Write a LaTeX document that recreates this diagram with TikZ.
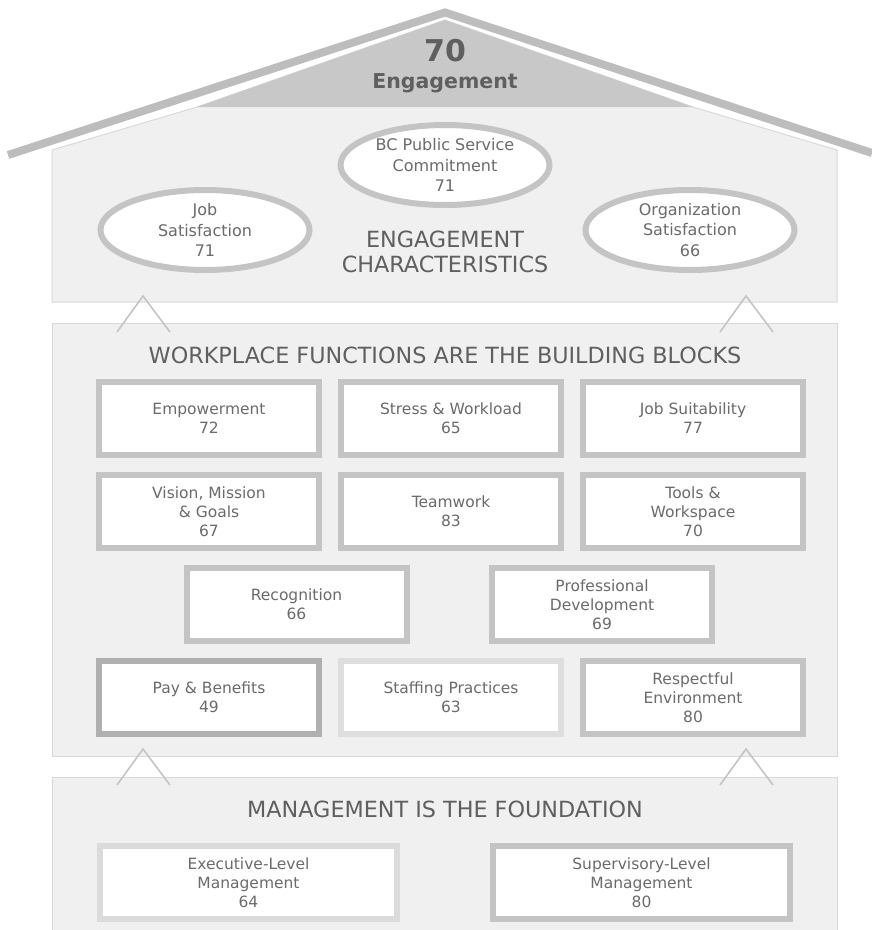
\documentclass[tikz,border=0pt]{standalone}
\usepackage{fontspec}
\setmainfont{DejaVu Sans}
\usetikzlibrary{shapes.geometric}

\definecolor{roofgray}{HTML}{BDBDBD}
\definecolor{gablegray}{HTML}{C8C8C8}
\definecolor{wallgray}{HTML}{F0F0F0}
\definecolor{walledge}{HTML}{D9D9D9}
\definecolor{framegray}{HTML}{C4C4C4}
\definecolor{textgray}{HTML}{6B6B6B}
\definecolor{headgray}{HTML}{5F5F5F}

\tikzstyle{wall} = [fill=wallgray, draw=walledge, line width=1pt]
\tikzstyle{block} = [rectangle, minimum width=220pt, minimum height=73pt, inner sep=0pt, align=center, text=textgray, font=\fontsize{15.5}{19}\selectfont, fill=white, draw=framegray, line width=6pt]
\tikzstyle{blockwide} = [block, minimum width=297pt]
\tikzstyle{oval} = [ellipse, minimum width=209pt, minimum height=80pt, inner sep=0pt, align=center, text=textgray, font=\fontsize{16}{20.5}\selectfont, fill=white, draw=framegray, line width=6pt]
\tikzstyle{heading} = [align=center, text=headgray, font=\fontsize{22.3}{25}\selectfont]
\tikzstyle{chevron} = [draw=framegray, line width=1.6pt]

\begin{document}
\begin{tikzpicture}[x=1pt, y=-1pt, node distance=93pt]
\useasboundingbox (0,0) rectangle (872,930);

% house walls and roof
\draw[wall] (52,150) -- (197,107) -- (445,20) -- (693,107) -- (837,150) -- (837,302) -- (52,302) -- cycle;
\fill[gablegray] (197,107) -- (445,20) -- (693,107) -- cycle;
\draw[roofgray, line width=8pt, miter limit=10] (8,155) -- (445,12.5) -- (872,153);
\draw[wall] (52,323) rectangle (837,756);
\draw[wall] (52,777) rectangle (837,935);

% chevrons between the floors
\foreach \cx/\cy in {143/296, 746/296, 143/749, 746/749}
  \draw[chevron] (\cx-26,\cy+36) -- (\cx,\cy) -- (\cx+27,\cy+36);

\node (EngScore)[font=\fontsize{30}{32}\selectfont\bfseries, text=headgray] at (445,51) {70};
\node (EngLabel)[font=\fontsize{20.5}{24}\selectfont\bfseries, text=headgray] at (445,83) {Engagement};

% engagement characteristics
\node (JobSat)[oval] at (205,230) {Job\\Satisfaction\\71};
\node (PublicService)[oval] at (445,165) {BC Public Service\\Commitment\\71};
\node (OrgSat)[oval] at (690,230) {Organization\\Satisfaction\\66};
\node (CharTitle)[heading] at (445,251.5) {ENGAGEMENT\\CHARACTERISTICS};

% workplace functions
\node (FuncTitle)[heading] at (445,355) {WORKPLACE FUNCTIONS ARE THE BUILDING BLOCKS};
\node (Empowerment)[block] at (209,418.5) {Empowerment\\72};
\node (StressWorkload)[block, right of=Empowerment, xshift=149pt] {Stress \& Workload\\65};
\node (JobSuit)[block, right of=StressWorkload, xshift=149pt] {Job Suitability\\77};
\node (VisionMission)[block, below of=Empowerment] {Vision, Mission\\\& Goals\\67};
\node (Teamwork)[block, below of=StressWorkload] {Teamwork\\83};
\node (ToolsWork)[block, below of=JobSuit] {Tools \&\\Workspace\\70};
\node (Recognition)[block, below of=VisionMission, xshift=87.5pt] {Recognition\\66};
\node (ProfDev)[block, below of=ToolsWork, xshift=-91pt] {Professional\\Development\\69};
\node (PayBenefits)[block, draw=black!31, below of=Recognition, xshift=-87.5pt] {Pay \& Benefits\\49};
\node (Staffing)[block, draw=black!13, right of=PayBenefits, xshift=149pt] {Staffing Practices\\63};
\node (RespEnv)[block, right of=Staffing, xshift=149pt] {Respectful\\Environment\\80};

% management
\node (MgmtTitle)[heading] at (445,809) {MANAGEMENT IS THE FOUNDATION};
\node (ExecMgmt)[blockwide, draw=black!14] at (248.5,882.5) {Executive-Level\\Management\\64};
\node (SupMgmt)[blockwide, right of=ExecMgmt, xshift=300pt] {Supervisory-Level\\Management\\80};
\end{tikzpicture}
\end{document}
